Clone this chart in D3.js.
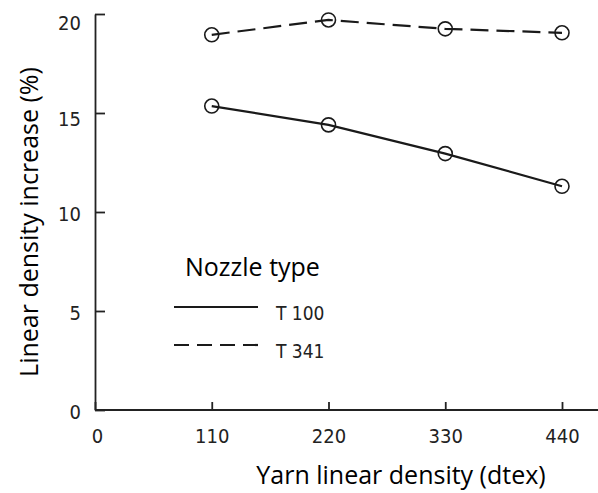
<!DOCTYPE html>
<html>
<head>
<meta charset="utf-8">
<script src="https://cdn.jsdelivr.net/npm/d3@7"></script>
<style>
  body { margin: 0; background: #fff; }
  svg { display: block; }
</style>
</head>
<body>
<div id="container"></div>
<script>
// data
const densities = [110, 220, 330, 440];
const t100 = [15.35, 14.4, 12.95, 11.3];
const t341 = [18.95, 19.7, 19.25, 19.05];
const xTicks = [0, 110, 220, 330, 440];
const yTicks = [0, 5, 10, 15, 20];
const seriesNames = ['T 100', 'T 341'];

const width = 598;
const height = 493;
const tickFont = '"DejaVu Sans Condensed", "DejaVu Sans", sans-serif';
const titleFont = '"Open Sans", sans-serif';

const svg = d3.select('#container')
              .append('svg')
              .attr('width', width)
              .attr('height', height);

// scales
const xScale = d3.scaleLinear()
                 .domain([0, 440])
                 .range([95, 562]);

const yScale = d3.scaleLinear()
                 .domain([0, 20])
                 .range([410, 14]);

// axes, ticks pointing into the plot
const xAxis = d3.axisBottom(xScale).tickValues(xTicks).tickSizeInner(-8).tickSizeOuter(0).tickPadding(19);
const yAxis = d3.axisLeft(yScale).tickValues(yTicks).tickSizeInner(-10).tickSizeOuter(0).tickPadding(14);

const gx = svg.append('g')
              .attr('transform', 'translate(0,410)')
              .call(xAxis);
gx.select('.domain').attr('d', 'M95,0H598');

const gy = svg.append('g')
              .attr('transform', 'translate(95,0)')
              .call(yAxis);

svg.selectAll('.domain, .tick line')
   .attr('stroke', '#222')
   .attr('stroke-width', 1.8);

svg.selectAll('.tick text')
   .attr('font-family', tickFont)
   .attr('font-size', 20)
   .attr('fill', '#222');
gx.select('.tick text').attr('dx', 2);
gy.selectAll('.tick text').attr('dy', (d) => (d === 20 ? '0.75em' : d === 15 ? '0.62em' : '0.4em'));

// lines
const line = d3.line()
               .x((d, i) => xScale(densities[i]))
               .y(d => yScale(d));

const series = [
    { name: seriesNames[0], values: t100, dash: null },
    { name: seriesNames[1], values: t341, dash: '18,8' }
];

series.forEach(s => {
    svg.append('path')
       .datum(s.values)
       .attr('d', line)
       .attr('fill', 'none')
       .attr('stroke', '#1a1a1a')
       .attr('stroke-width', 2.2)
       .attr('stroke-dasharray', s.dash);

    svg.selectAll(null)
       .data(s.values)
       .enter()
       .append('circle')
       .attr('cx', (d, i) => xScale(densities[i]))
       .attr('cy', d => yScale(d))
       .attr('r', 7)
       .attr('fill', 'none')
       .attr('stroke', '#1a1a1a')
       .attr('stroke-width', 1.6);
});

// legend
svg.append('text')
   .attr('x', 185)
   .attr('y', 276)
   .attr('font-family', titleFont)
   .attr('font-size', 25)
   .attr('fill', '#000')
   .text('Nozzle type');

series.forEach((s, i) => {
    const y = 307 + i * 38;
    svg.append('line')
       .attr('x1', 174).attr('x2', 258)
       .attr('y1', y).attr('y2', y)
       .attr('stroke', '#1a1a1a')
       .attr('stroke-width', 2.2)
       .attr('stroke-dasharray', s.dash ? '15,8' : null);
    svg.append('text')
       .attr('x', 276)
       .attr('y', y + 13)
       .attr('font-family', tickFont)
       .attr('font-size', 19)
       .attr('fill', '#222')
       .text(s.name);
});

// axis titles
svg.append('text')
   .attr('x', 401)
   .attr('y', 484)
   .attr('text-anchor', 'middle')
   .attr('font-family', titleFont)
   .attr('font-size', 25)
   .attr('fill', '#000')
   .text('Yarn linear density (dtex)');

svg.append('text')
   .attr('transform', 'translate(38,222) rotate(-90)')
   .attr('text-anchor', 'middle')
   .attr('font-family', titleFont)
   .attr('font-size', 25)
   .attr('fill', '#000')
   .text('Linear density increase (%)');
</script>
</body>
</html>
